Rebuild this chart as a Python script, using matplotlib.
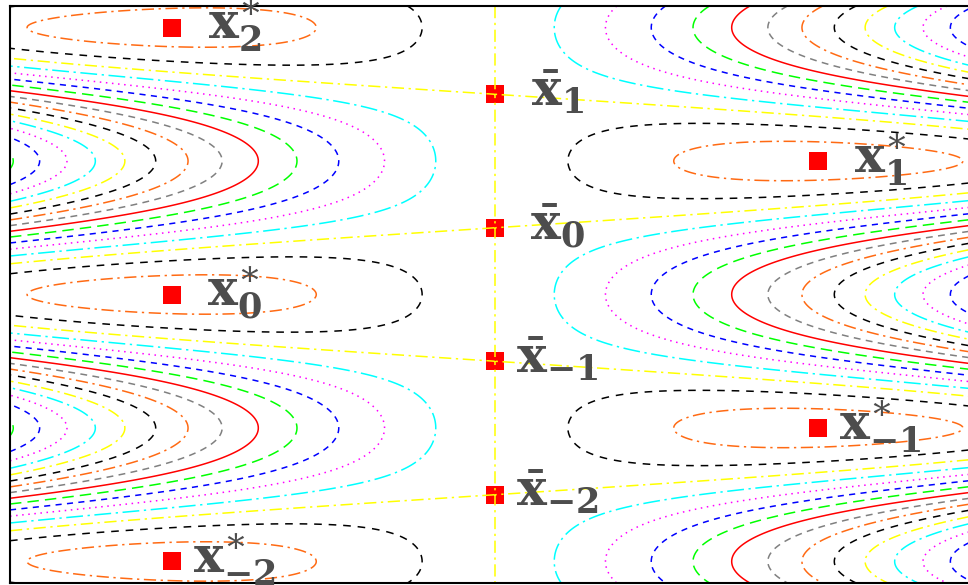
import numpy as np
import matplotlib
matplotlib.use('Agg')
import matplotlib.pyplot as plt

plt.rcParams['mathtext.fontset'] = 'dejavuserif'

# surface: f = c*s^2 - s*cos(theta), s = 0.5 - x
curv = 1.5
x_range = [0.0, 1.0]
y_range = [-6.79, 6.79]

# contour levels (step 1/15, from -2 to 13 steps)
levels = [n / 15 for n in range(-2, 14)]

# colour / line style cycle of the contour levels
cycle_colors = ['#ff6a13', 'black', '#ffff00', '#00ffff', '#ff00ff',
                '#0000ff', '#00ff00', '#ff0000', '#808080']
cycle_styles = [(0, (8, 3, 1.5, 3)), (0, (5, 4.5)), (0, (8, 3, 1.5, 3)),
                (0, (11, 3, 1.5, 3)), (0, (1, 3)), (0, (4, 3.5)),
                (0, (7.5, 4)), 'solid', (0, (4.5, 3.5))]

# minima x*_k and saddles xbar_k
min_x = [0.167, 0.833, 0.167, 0.833, 0.167]
min_y = [2 * np.pi, np.pi, 0.0, -np.pi, -2 * np.pi]
min_labels = [r'$\mathbf{x}^{\ast}_{\mathbf{2}}$', r'$\mathbf{x}^{\ast}_{\mathbf{1}}$',
              r'$\mathbf{x}^{\ast}_{\mathbf{0}}$', r'$\mathbf{x}^{\ast}_{\mathbf{-1}}$',
              r'$\mathbf{x}^{\ast}_{\mathbf{-2}}$']
sad_x = [0.5, 0.5, 0.5, 0.5]
sad_y = [1.5 * np.pi, 0.5 * np.pi, -0.5 * np.pi, -1.5 * np.pi]
sad_labels = [r'$\bar{\mathbf{x}}_{\mathbf{1}}$', r'$\bar{\mathbf{x}}_{\mathbf{0}}$',
              r'$\bar{\mathbf{x}}_{\mathbf{-1}}$', r'$\bar{\mathbf{x}}_{\mathbf{-2}}$']

xx = np.linspace(x_range[0], x_range[1], 801)
yy = np.linspace(y_range[0], y_range[1], 801)
X, Y = np.meshgrid(xx, yy)
S = 0.5 - X
F = curv * S ** 2 - S * np.cos(Y)

colors = [cycle_colors[i % 9] for i in range(len(levels))]
styles = [cycle_styles[i % 9] for i in range(len(levels))]

fig = plt.figure(figsize=(9.68, 5.85), dpi=100)
ax = fig.add_axes([10 / 968, 2 / 585, 970 / 968, 577 / 585])

# markers under the contour lines
ax.plot(min_x + sad_x, min_y + sad_y, 's', color='#ff0000', markersize=13,
        markeredgewidth=0, zorder=1.5)

ax.contour(X, Y, F, levels=levels, colors=colors, linestyles=styles,
           linewidths=1.1, zorder=2)

for x, y, lab in zip(min_x + sad_x, min_y + sad_y, min_labels + sad_labels):
    ax.annotate(lab, xy=(x, y), xytext=(45, -8.5), textcoords='offset points',
                ha='center', va='baseline', fontsize=36, color='#4d4d4d',
                zorder=3)

ax.set_xlim(x_range)
ax.set_ylim(y_range)
ax.set_xticks([])
ax.set_yticks([])
for sp in ax.spines.values():
    sp.set_linewidth(1.5)

fig.savefig('out.png', dpi=100)
